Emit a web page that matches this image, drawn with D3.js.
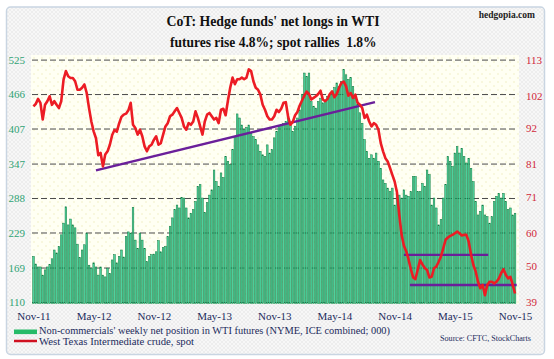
<!DOCTYPE html>
<html><head><meta charset="utf-8">
<script src="https://cdn.jsdelivr.net/npm/d3@7"></script>
<style>body{margin:0;background:#fff} svg{display:block} text{font-family:"Liberation Serif","Times New Roman",serif}</style>
</head><body>
<svg id="c" width="554" height="359"></svg>
<script>
// Non-commercials' weekly net position in WTI futures (000), Nov-2011 .. Nov-2015
const netPositions = [
 188,175,170,170,156,165,170,174,184,199,194,205,225,245,273,242,252,242,237,209,186,199,208,228,173,168,177,170,156,170,156,153,168,
 159,182,191,177,188,199,187,222,230,228,272,216,202,228,216,202,179,188,191,192,196,215,196,203,205,222,239,254,268,276,271,289,288,271,254,
 262,268,282,308,311,288,263,280,293,302,336,316,308,331,323,359,351,345,371,393,432,425,413,405,409,413,399,393,388,379,368,362,359,379,365,
 371,391,402,411,414,416,419,425,417,402,411,425,439,465,502,496,502,453,445,442,453,459,451,453,462,465,471,477,485,479,488,508,499,491,
 494,479,459,448,434,416,388,368,356,362,356,365,351,339,319,313,305,299,305,276,296,293,288,302,293,291,299,325,325,299,299,313,308,336,328,
 276,288,271,242,251,288,311,359,351,342,365,376,365,373,359,348,356,339,316,282,259,265,276,259,256,245,256,282,291,296,288,296,282,268,271,259,262
];
// West Texas Intermediate crude, spot ($)
const wtiSpot = [
 98.7,99.5,101.0,99.8,94.7,99.2,100.3,101.8,99.2,100.3,99.2,98.2,100.3,106.9,109.5,107.9,107.4,107.4,106.4,103.8,103.8,104.4,105.4,102.8,98.2,94.1,91.1,89,83.8,84.5,80.4,84,85,
 87,90,91.5,91,93.5,95.5,96.2,96.5,97.5,99.8,93.1,92.1,90.1,91.6,89.6,86.5,85,86.5,87,88.5,89.6,87,87.5,90.1,92.6,93.6,95.7,96.2,97.2,98.2,96.7,95.2,92.6,91.6,93.6,
 93.1,94.1,97.2,95.2,92.6,90.1,94.1,96.2,96.7,95.7,94.7,95.2,93.6,97.7,98,96,100.5,104.5,107.5,105.5,107,107,107.5,107,107.5,110,109.5,106.4,104.4,103.8,102.3,99.2,97.7,95.7,94.7,
 94.7,95.7,97.7,97,98,99.8,100,95.5,93.1,94,96,97,99,100.5,102,103.2,102.5,100.8,101.3,101.8,102.5,103.5,100.8,100.3,101,102.5,103.3,101.5,102.5,104.4,105.9,106.3,104.9,102,
 102.8,101.3,102.3,99.8,99.2,98.2,95.2,96.2,94.1,92.6,93.6,93.1,91.6,87.5,85,82.9,81.9,79.9,77.8,75.8,72.5,65.6,59.5,56.2,54.5,52,49,46.5,46,49,51.8,50.5,49.4,48.8,46.5,
 46.7,49.3,49.8,51.3,52.9,55.4,58,58.7,59.2,59.5,60,60.5,60,59.3,59.5,59.5,57.4,53.4,50.3,48.3,45.2,43.2,44.2,41.1,44.2,45.2,45.2,44.7,45.2,46.2,47.8,49,47.3,46.2,46.7,44.2,41.6
];
const xTickLabels = ["Nov-11","May-12","Nov-12","May-13","Nov-13","May-14","Nov-14","May-15","Nov-15"];
const leftTicks = [110,169,229,288,347,407,466,525];
const rightTicks = [39,50,60,71,81,92,102,113];
// annotation lines on the price scale
const trendStart = [27, 160, 162.6];
const trendEnd = [147.5, 196.4, 208.7];
const trendFrom = [79.2, 53.4, 44.2];
const trendTo = [100.0, 53.4, 44.2];

const svg = d3.select("#c");
const defs = svg.append("defs");
const hatch = defs.append("pattern").attr("id","hatch").attr("width",4).attr("height",4).attr("patternUnits","userSpaceOnUse");
hatch.append("rect").attr("width",4).attr("height",4).attr("fill","#f7f7f7");
hatch.append("path").attr("d","M0,4 L4,0 M0,0 L4,4").attr("stroke","#e6e6e6").attr("stroke-width",0.6);
const dots = defs.append("pattern").attr("id","dots").attr("width",8).attr("height",8).attr("patternUnits","userSpaceOnUse");
dots.append("rect").attr("width",8).attr("height",8).attr("fill","#fffff3");
dots.append("circle").attr("cx",2).attr("cy",2).attr("r",0.7).attr("fill","#ecebb8");
dots.append("circle").attr("cx",6).attr("cy",6).attr("r",0.7).attr("fill","#ecebb8");

svg.append("rect").attr("x",6.5).attr("y",7).attr("width",538).attr("height",347.5).attr("rx",4)
  .attr("fill","url(#hatch)").attr("stroke","#c9d5e2").attr("stroke-width",1.5);

const plot = {left:31, right:519, top:55, bottom:304};
svg.append("rect").attr("x",plot.left).attr("y",plot.top).attr("width",plot.right-plot.left).attr("height",plot.bottom-plot.top).attr("fill","url(#dots)");

const idx = d3.range(netPositions.length);
const x = d3.scaleBand().domain(idx).range([32.3, 516.2]).paddingInner(0.3).paddingOuter(0.15);
const xc = d => x(d) + x.bandwidth()/2;
const xl = d3.scaleLinear().domain([0, netPositions.length-1]).range([xc(0), xc(netPositions.length-1)]);
const yL = d3.scaleLinear().domain([110,525]).range([302,59.6]);
const yR = d3.scaleLinear().domain([39,113]).range([302,59.6]);

// gridlines
svg.append("g").attr("transform",`translate(${plot.left+1},0)`)
  .call(d3.axisRight(yL).tickValues(leftTicks).tickSize(plot.right-plot.left-2).tickFormat(""))
  .call(g=>g.select(".domain").remove())
  .call(g=>g.selectAll("line").attr("stroke","#4a4a4a").attr("stroke-dasharray","6,3").attr("stroke-width",1));

// bars
svg.append("g").selectAll("rect").data(netPositions).join("rect")
  .attr("x",(d,i)=>x(i)).attr("width",x.bandwidth())
  .attr("y",d=>yL(d)).attr("height",d=>yL(110)-yL(d)+1.5)
  .attr("fill","#36cc92").attr("fill-opacity",0.88)
  .attr("stroke","#0f7a3e").attr("stroke-width",0.5);

// trend lines
svg.append("g").selectAll("line").data(trendStart).join("line")
  .attr("x1",(d)=>xl(d)).attr("x2",(d,i)=>xl(trendEnd[i]))
  .attr("y1",(d,i)=>yR(trendFrom[i])).attr("y2",(d,i)=>yR(trendTo[i]))
  .attr("stroke","#6a1f9a").attr("stroke-width",2.4);

// price line
svg.append("path").datum(wtiSpot)
  .attr("d", d3.line().x((d,i)=>xl(i)).y(d=>yR(d)))
  .attr("fill","none").attr("stroke","#ec1c24").attr("stroke-width",2.6).attr("stroke-linejoin","round");

// axes
svg.append("g").attr("transform","translate(25,0)")
  .call(d3.axisLeft(yL).tickValues(leftTicks).tickSize(0).tickPadding(0))
  .call(g=>g.select(".domain").remove())
  .call(g=>g.selectAll("text").attr("fill","#2fa374").attr("font-size",11).style("font-family","Liberation Serif"));
svg.append("g").attr("transform","translate(526,0)")
  .call(d3.axisRight(yR).tickValues(rightTicks).tickSize(0).tickPadding(0))
  .call(g=>g.select(".domain").remove())
  .call(g=>g.selectAll("text").attr("fill","#d2283a").attr("font-size",11).style("font-family","Liberation Serif"));
const labelIdx = xTickLabels.map((d,i)=>i*26);
svg.append("g").attr("transform","translate(0,302)")
  .call(d3.axisBottom(xl).tickValues(labelIdx).tickSize(0).tickPadding(10.5).tickFormat((d,i)=>xTickLabels[i]))
  .call(g=>g.select(".domain").remove())
  .call(g=>g.selectAll("text").attr("fill","#1c2b5c").attr("font-size",11).style("font-family","Liberation Serif"));

// titles
svg.append("text").attr("x",273).attr("y",26.2).attr("text-anchor","middle").attr("font-weight","bold").attr("font-size",14.5)
  .attr("textLength",213).attr("lengthAdjust","spacingAndGlyphs").attr("fill","#111").text("CoT: Hedge funds' net longs in WTI");
svg.append("text").attr("x",273.3).attr("y",46.6).attr("text-anchor","middle").attr("font-weight","bold").attr("font-size",14.5)
  .attr("textLength",206.6).attr("lengthAdjust","spacingAndGlyphs").attr("fill","#111").style("white-space","pre").text("futures rise 4.8%; spot rallies  1.8%");
svg.append("text").attr("x",535).attr("y",18).attr("text-anchor","end").attr("font-weight","bold").attr("font-size",9.5)
  .attr("fill","#222").text("hedgopia.com");

// legend
svg.append("rect").attr("x",14).attr("y",329.5).attr("width",23).attr("height",4.6).attr("fill","#27bb68");
svg.append("text").attr("x",39).attr("y",334.4).attr("font-size",9.5).attr("textLength",351).attr("lengthAdjust","spacingAndGlyphs")
  .attr("fill","#1c2b5c").text("Non-commercials' weekly net position in WTI futures (NYME, ICE combined; 000)");
svg.append("line").attr("x1",14).attr("x2",37).attr("y1",341).attr("y2",341).attr("stroke","#d01020").attr("stroke-width",2.5);
svg.append("text").attr("x",39).attr("y",345.2).attr("font-size",9.5).attr("textLength",155).attr("lengthAdjust","spacingAndGlyphs")
  .attr("fill","#1c2b5c").text("West Texas Intermediate crude, spot");
svg.append("text").attr("x",531).attr("y",341).attr("text-anchor","end").attr("font-size",8.5).attr("textLength",91).attr("lengthAdjust","spacingAndGlyphs")
  .attr("fill","#1c2b5c").text("Source: CFTC, StockCharts");
</script>
</body></html>
